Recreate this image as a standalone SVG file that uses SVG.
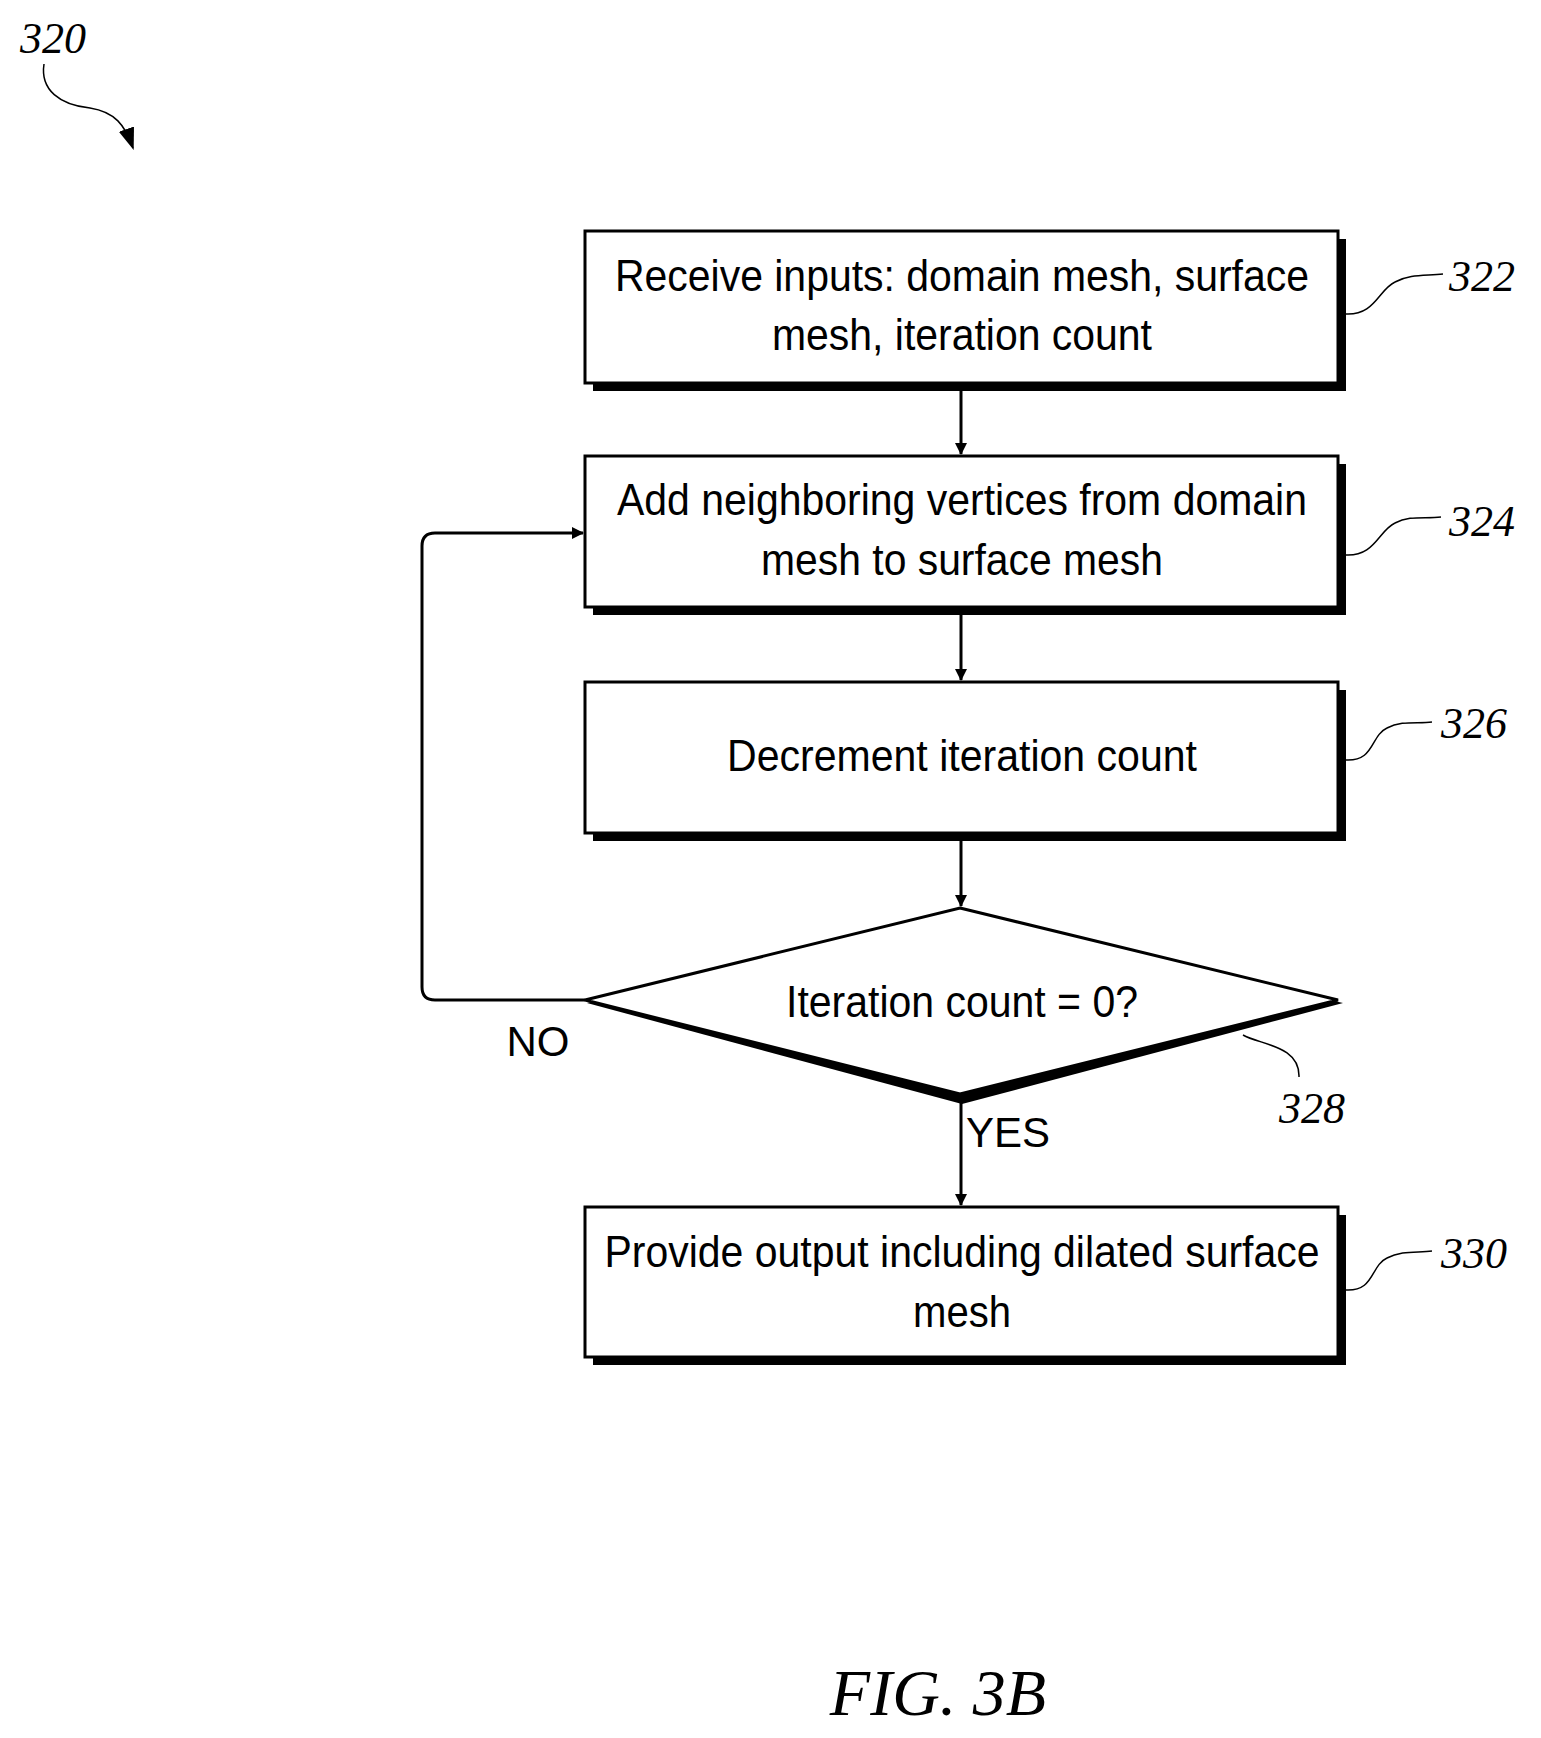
<svg xmlns="http://www.w3.org/2000/svg" width="1541" height="1738" viewBox="0 0 1541 1738">
<defs>
<marker id="ah" markerWidth="12" markerHeight="12" refX="11" refY="6" orient="auto" markerUnits="userSpaceOnUse" viewBox="0 0 12 12"><path d="M0,0 L12,6 L0,12 Z" fill="#000"/></marker>
<marker id="ah2" markerWidth="22" markerHeight="22" refX="20" refY="8" orient="auto" markerUnits="userSpaceOnUse" viewBox="0 0 22 16"><path d="M0,0 L22,8 L0,16 Z" fill="#000"/></marker>
</defs>
<style>
.box{fill:#fff;stroke:#000;stroke-width:3}
.sh{fill:#000}
.t{font-family:"Liberation Sans",Arial,sans-serif;font-size:44px;text-anchor:middle;fill:#000}
.ref{font-family:"Liberation Serif","Times New Roman",serif;font-style:italic;font-size:44px;fill:#000}
.ln{fill:none;stroke:#000;stroke-width:3}
.ld{fill:none;stroke:#000;stroke-width:1.5}
</style>
<rect width="1541" height="1738" fill="#fff"/>
<g id="n320">
<text class="ref" x="20" y="53">320</text>
<path class="ld" d="M44,64 C40,90 60,105 90,108 C115,112 125,125 133,148" marker-end="url(#ah2)"/>
</g>
<g id="n322">
<rect class="sh" x="593" y="239" width="753" height="152"/>
<rect class="box" x="585" y="231" width="753" height="152"/>
<text class="t" x="962" y="291" textLength="694" lengthAdjust="spacingAndGlyphs">Receive inputs: domain mesh, surface</text>
<text class="t" x="962" y="350" textLength="380" lengthAdjust="spacingAndGlyphs">mesh, iteration count</text>
<path class="ld" d="M1345,314 C1375,316 1378,290 1395,282 C1410,274 1425,276 1443,274"/>
<text class="ref" x="1449" y="291">322</text>
</g>
<g id="n324">
<rect class="sh" x="593" y="464" width="753" height="151"/>
<rect class="box" x="585" y="456" width="753" height="151"/>
<text class="t" x="962" y="515" textLength="690" lengthAdjust="spacingAndGlyphs">Add neighboring vertices from domain</text>
<text class="t" x="962" y="575" textLength="402" lengthAdjust="spacingAndGlyphs">mesh to surface mesh</text>
<path class="ld" d="M1345,555 C1375,557 1378,531 1395,523 C1410,515 1425,519 1441,517"/>
<text class="ref" x="1449" y="536">324</text>
</g>
<g id="n326">
<rect class="sh" x="593" y="690" width="753" height="151"/>
<rect class="box" x="585" y="682" width="753" height="151"/>
<text class="t" x="962" y="771" textLength="470" lengthAdjust="spacingAndGlyphs">Decrement iteration count</text>
<path class="ld" d="M1345,760 C1375,762 1370,736 1387,728 C1402,720 1418,724 1432,722"/>
<text class="ref" x="1441" y="738">326</text>
</g>
<g id="n328">
<polygon class="sh" points="960,914 1343,1003 962,1104 587,1003"/>
<polygon class="box" points="960,908 1338,1000 960,1094 585,1000"/>
<text class="t" x="962" y="1017" textLength="352" lengthAdjust="spacingAndGlyphs">Iteration count = 0?</text>
<path class="ld" d="M1243,1035 C1260,1045 1300,1045 1299,1077"/>
<text class="ref" x="1279" y="1123">328</text>
</g>
<g id="n330">
<rect class="sh" x="593" y="1215" width="753" height="150"/>
<rect class="box" x="585" y="1207" width="753" height="150"/>
<text class="t" x="962" y="1267" textLength="715" lengthAdjust="spacingAndGlyphs">Provide output including dilated surface</text>
<text class="t" x="962" y="1327" textLength="98" lengthAdjust="spacingAndGlyphs">mesh</text>
<path class="ld" d="M1345,1290 C1375,1292 1370,1266 1387,1258 C1402,1250 1418,1253 1432,1251"/>
<text class="ref" x="1441" y="1268">330</text>
</g>
<g id="connectors">
<line class="ln" x1="961" y1="391" x2="961" y2="454" marker-end="url(#ah)"/>
<line class="ln" x1="961" y1="615" x2="961" y2="680" marker-end="url(#ah)"/>
<line class="ln" x1="961" y1="841" x2="961" y2="906" marker-end="url(#ah)"/>
<line class="ln" x1="961" y1="1100" x2="961" y2="1205" marker-end="url(#ah)"/>
<path class="ln" d="M585,1000 L435,1000 Q422,1000 422,987 L422,546 Q422,533 435,533 L583,533" marker-end="url(#ah)"/>
<text class="t" x="538" y="1056" style="font-size:42px">NO</text>
<text class="t" x="1008" y="1147" style="font-size:42px">YES</text>
</g>
<text class="ref" x="938" y="1715" text-anchor="middle" style="font-size:66px">FIG. 3B</text>
</svg>
